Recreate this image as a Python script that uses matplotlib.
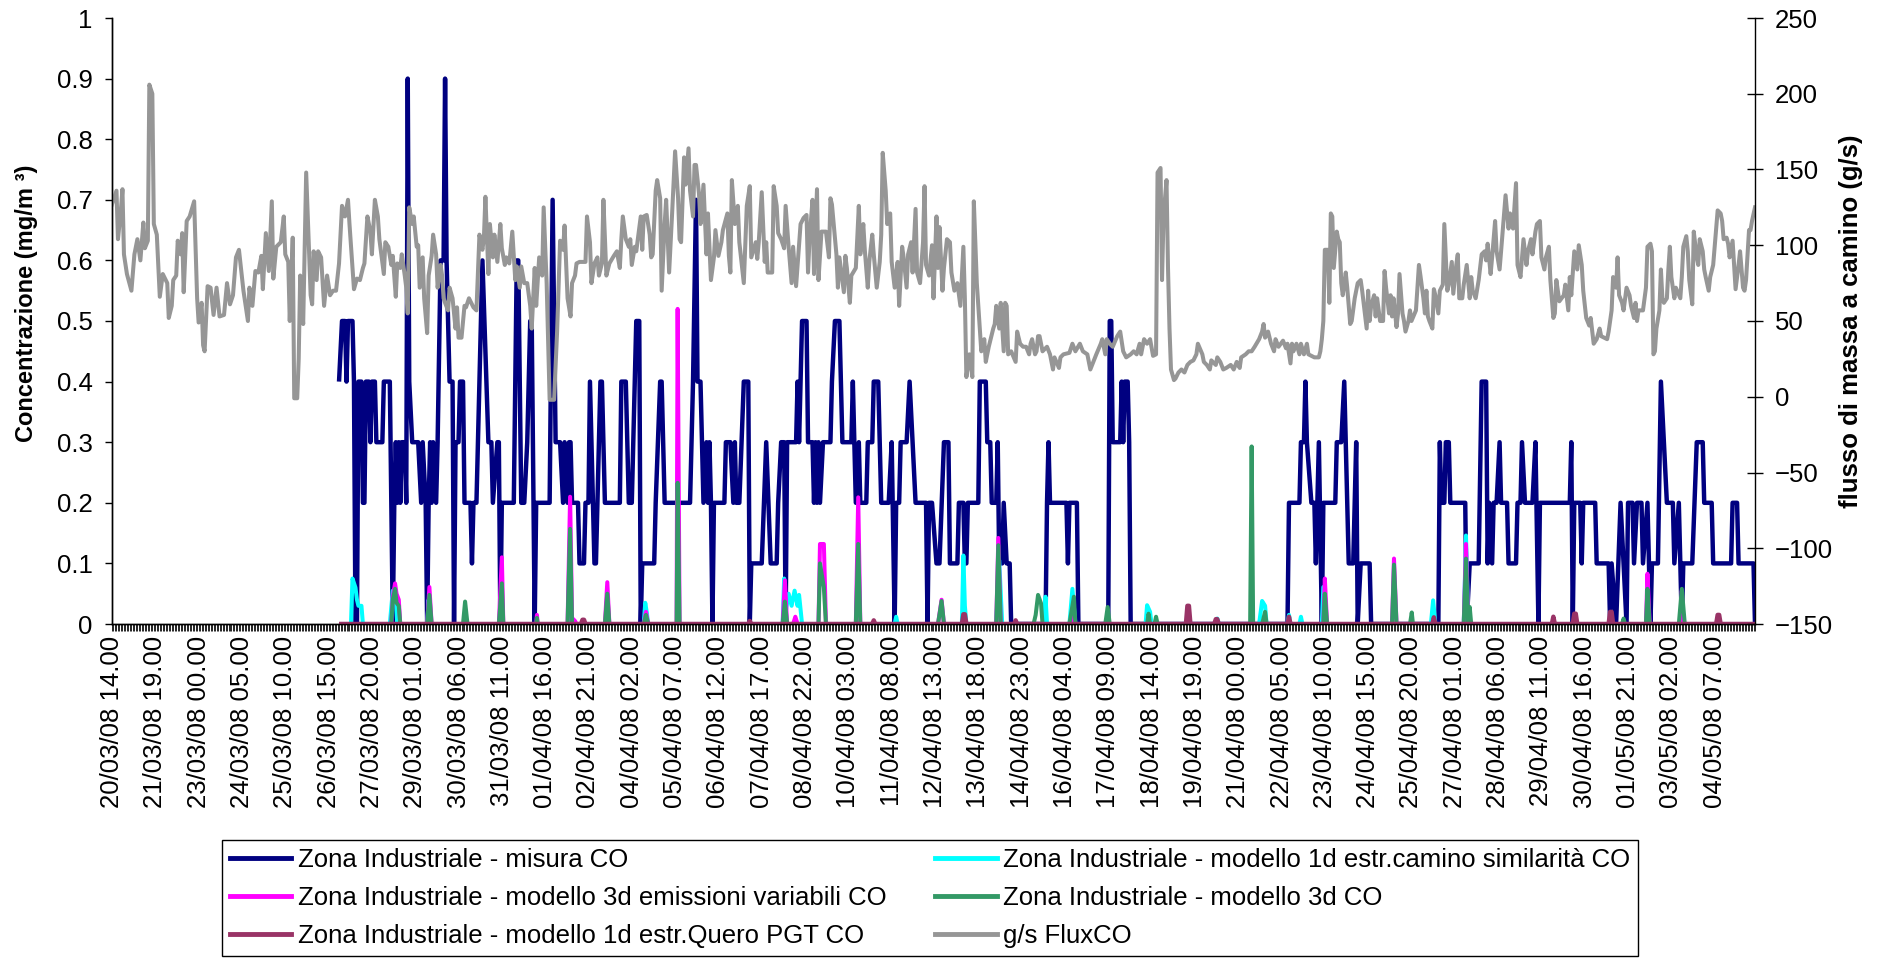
import matplotlib
matplotlib.use("Agg")
import matplotlib.pyplot as plt
from matplotlib.lines import Line2D
import numpy as np

plt.rcParams['font.family'] = ['Liberation Sans', 'DejaVu Sans']

# =====================================
# DATA (hour index from 20/03/08 14.00)
# =====================================

tick_labels = [
    "20/03/08 14.00", "21/03/08 19.00", "23/03/08 00.00", "24/03/08 05.00",
    "25/03/08 10.00", "26/03/08 15.00", "27/03/08 20.00", "29/03/08 01.00",
    "30/03/08 06.00", "31/03/08 11.00", "01/04/08 16.00", "02/04/08 21.00",
    "04/04/08 02.00", "05/04/08 07.00", "06/04/08 12.00", "07/04/08 17.00",
    "08/04/08 22.00", "10/04/08 03.00", "11/04/08 08.00", "12/04/08 13.00",
    "13/04/08 18.00", "14/04/08 23.00", "16/04/08 04.00", "17/04/08 09.00",
    "18/04/08 14.00", "19/04/08 19.00", "21/04/08 00.00", "22/04/08 05.00",
    "23/04/08 10.00", "24/04/08 15.00", "25/04/08 20.00", "27/04/08 01.00",
    "28/04/08 06.00", "29/04/08 11.00", "30/04/08 16.00", "01/05/08 21.00",
    "03/05/08 02.00", "04/05/08 07.00",
]
n_hours = 1101
label_step = 29

# g/s FluxCO (secondary axis)
flux_points = [
    (0, 127), (3, 136), (4, 104), (6, 124), (7, 137), (8, 94), (10, 81), (13, 70), (15, 94), (17, 104),
    (19, 90), (21, 115), (22, 98), (24, 103), (25, 206), (27, 200), (28, 114), (30, 107), (32, 66), (34, 81),
    (37, 75), (38, 52), (40, 60), (41, 77), (43, 80), (44, 103), (46, 94), (47, 108), (48, 69), (50, 116),
    (52, 119), (55, 129), (57, 65), (58, 49), (60, 62), (61, 34), (62, 30), (64, 73), (66, 72), (68, 54),
    (70, 72), (72, 53), (75, 54), (77, 75), (79, 61), (81, 67), (83, 92), (85, 97), (88, 70), (91, 50),
    (92, 72), (94, 60), (96, 83), (98, 82), (100, 93), (101, 71), (103, 108), (105, 83), (107, 129), (108, 78),
    (110, 99), (113, 102), (115, 119), (116, 94), (118, 89), (119, 50), (121, 105), (122, -1), (124, -1), (125, 25),
    (126, 80), (128, 48), (130, 148), (133, 67), (134, 61), (135, 96), (137, 77), (138, 96), (140, 92), (142, 60),
    (144, 80), (146, 67), (148, 70), (150, 70), (152, 88), (154, 126), (156, 119), (158, 130), (159, 114), (162, 71),
    (164, 78), (166, 77), (168, 85), (169, 88), (171, 119), (173, 109), (174, 94), (176, 130), (178, 119), (179, 104),
    (182, 81), (183, 102), (185, 99), (187, 87), (188, 93), (190, 66), (191, 88), (193, 85), (194, 94), (196, 80),
    (197, 72), (198, 55), (199, 125), (201, 114), (202, 119), (204, 99), (205, 100), (206, 72), (208, 92), (209, 65),
    (211, 42), (212, 80), (214, 93), (215, 107), (217, 94), (218, 72), (220, 87), (221, 80), (222, 65), (223, 62),
    (225, 57), (226, 72), (228, 65), (230, 45), (231, 59), (232, 39), (234, 39), (236, 60), (237, 59), (239, 65),
    (242, 59), (244, 57), (246, 107), (248, 97), (249, 105), (250, 132), (252, 81), (253, 114), (255, 92), (256, 107),
    (258, 89), (260, 114), (261, 98), (263, 87), (264, 92), (266, 88), (268, 109), (270, 77), (271, 86), (273, 72),
    (274, 86), (276, 75), (278, 75), (280, 60), (281, 45), (283, 85), (284, 60), (286, 92), (288, 80), (289, 125),
    (291, 75), (293, -2), (296, -2), (298, 43), (300, 103), (302, 97), (303, 113), (305, 65), (307, 53), (308, 75),
    (310, 80), (311, 88), (313, 89), (317, 89), (318, 119), (320, 102), (321, 75), (323, 88), (325, 92), (326, 80),
    (328, 88), (329, 130), (331, 80), (333, 88), (336, 93), (338, 96), (340, 85), (341, 104), (342, 119), (344, 104),
    (346, 99), (347, 104), (348, 87), (350, 99), (351, 96), (354, 119), (355, 97), (356, 119), (358, 120), (360, 107),
    (361, 92), (362, 94), (364, 136), (365, 143), (367, 131), (368, 70), (370, 114), (371, 130), (373, 82), (375, 121),
    (377, 162), (379, 131), (380, 104), (381, 102), (383, 158), (384, 140), (386, 164), (387, 136), (389, 119), (390, 153),
    (391, 153), (393, 134), (394, 114), (396, 140), (398, 94), (399, 121), (401, 77), (403, 92), (404, 110), (406, 93),
    (408, 102), (409, 110), (412, 121), (413, 93), (414, 82), (415, 143), (417, 114), (419, 126), (420, 102), (423, 75),
    (425, 126), (427, 139), (428, 92), (431, 102), (432, 91), (433, 102), (435, 135), (437, 89), (438, 102), (439, 82),
    (442, 82), (443, 139), (445, 126), (446, 108), (448, 104), (450, 98), (451, 126), (453, 99), (455, 75), (456, 99),
    (458, 73), (461, 114), (463, 118), (465, 120), (466, 82), (467, 104), (469, 130), (470, 81), (472, 137), (473, 77),
    (475, 109), (478, 109), (480, 92), (481, 131), (482, 127), (483, 116), (485, 94), (486, 72), (487, 92), (490, 69),
    (491, 93), (492, 85), (494, 62), (495, 80), (498, 85), (500, 126), (501, 94), (503, 114), (504, 97), (506, 72),
    (507, 89), (509, 107), (510, 94), (512, 72), (514, 89), (515, 107), (516, 161), (518, 136), (519, 114), (521, 121),
    (522, 89), (524, 72), (526, 89), (527, 60), (529, 99), (530, 92), (532, 72), (533, 94), (535, 102), (536, 82),
    (538, 124), (539, 82), (541, 75), (543, 102), (544, 139), (545, 87), (547, 80), (549, 100), (550, 65), (552, 119),
    (553, 85), (554, 112), (556, 70), (557, 85), (559, 104), (561, 102), (562, 82), (564, 70), (566, 75), (568, 60),
    (570, 99), (571, 65), (572, 13), (574, 28), (576, 13), (577, 129), (579, 75), (581, 45), (582, 30), (584, 38),
    (585, 23), (587, 33), (590, 45), (591, 48), (592, 60), (594, 45), (595, 62), (597, 30), (598, 62), (599, 60),
    (600, 28), (602, 30), (605, 23), (606, 43), (608, 35), (610, 33), (612, 33), (614, 28), (615, 35), (616, 38),
    (618, 28), (619, 30), (620, 40), (621, 40), (623, 30), (626, 33), (628, 28), (630, 18), (631, 26), (634, 19),
    (635, 26), (637, 28), (641, 29), (643, 35), (645, 30), (648, 35), (650, 30), (653, 28), (655, 18), (657, 23),
    (659, 28), (662, 35), (663, 38), (665, 28), (666, 38), (668, 35), (670, 33), (673, 40), (675, 43), (677, 30),
    (679, 26), (682, 28), (684, 30), (686, 28), (688, 35), (689, 28), (691, 38), (693, 35), (695, 38), (697, 27),
    (699, 28), (700, 148), (702, 151), (703, 77), (704, 119), (706, 143), (707, 85), (708, 45), (709, 18), (711, 11),
    (712, 12), (714, 16), (716, 18), (718, 16), (720, 21), (722, 23), (724, 24), (726, 28), (727, 35), (730, 28),
    (731, 23), (733, 21), (735, 18), (736, 24), (739, 21), (740, 26), (742, 23), (744, 18), (746, 19), (749, 21),
    (751, 18), (753, 23), (755, 19), (756, 26), (759, 28), (761, 30), (763, 30), (765, 33), (768, 38), (770, 43),
    (771, 48), (772, 39), (774, 43), (776, 35), (778, 30), (779, 38), (781, 33), (784, 37), (786, 32), (787, 35),
    (789, 22), (790, 35), (791, 30), (793, 35), (795, 28), (796, 35), (798, 28), (800, 35), (801, 28), (805, 26),
    (808, 26), (809, 30), (810, 38), (811, 50), (812, 97), (814, 97), (815, 62), (816, 121), (817, 119), (818, 85),
    (820, 109), (821, 104), (822, 102), (823, 75), (824, 67), (826, 82), (827, 72), (829, 48), (830, 50), (832, 65),
    (834, 75), (836, 77), (837, 70), (839, 53), (840, 45), (841, 70), (842, 50), (843, 60), (845, 67), (846, 53),
    (847, 65), (849, 50), (851, 50), (852, 83), (853, 72), (855, 55), (856, 67), (857, 53), (858, 65), (860, 46),
    (861, 55), (862, 81), (864, 55), (865, 50), (866, 43), (868, 50), (869, 57), (870, 50), (873, 57), (875, 87),
    (876, 80), (878, 65), (879, 55), (880, 70), (881, 53), (882, 50), (884, 45), (885, 71), (886, 67), (888, 55),
    (889, 70), (891, 74), (892, 114), (894, 70), (895, 74), (897, 89), (898, 68), (900, 87), (901, 94), (902, 65),
    (904, 65), (905, 74), (907, 87), (909, 65), (910, 79), (911, 70), (913, 65), (915, 77), (917, 94), (919, 96),
    (920, 90), (921, 101), (923, 81), (924, 92), (926, 116), (927, 96), (929, 84), (930, 96), (932, 121), (933, 133),
    (935, 111), (936, 121), (938, 111), (940, 141), (941, 87), (943, 79), (945, 104), (947, 87), (948, 96), (950, 104),
    (951, 94), (953, 109), (954, 114), (956, 116), (957, 92), (959, 84), (960, 92), (962, 99), (963, 77), (965, 52),
    (966, 55), (967, 77), (969, 63), (972, 67), (973, 74), (975, 57), (976, 79), (977, 67), (979, 96), (981, 84),
    (982, 100), (984, 87), (985, 70), (987, 52), (989, 47), (990, 52), (992, 35), (994, 38), (996, 45), (997, 40),
    (1001, 38), (1002, 43), (1004, 57), (1005, 79), (1007, 72), (1008, 92), (1009, 67), (1011, 62), (1012, 57), (1014, 72),
    (1016, 67), (1017, 60), (1019, 52), (1020, 62), (1021, 50), (1022, 57), (1025, 57), (1027, 72), (1028, 99), (1030, 101),
    (1031, 96), (1032, 28), (1033, 30), (1034, 45), (1036, 57), (1037, 84), (1038, 65), (1039, 62), (1041, 65), (1042, 84),
    (1043, 99), (1044, 79), (1046, 65), (1047, 72), (1050, 65), (1051, 79), (1052, 99), (1054, 106), (1055, 96), (1056, 77),
    (1058, 61), (1059, 109), (1061, 92), (1062, 87), (1063, 104), (1065, 96), (1066, 84), (1067, 79), (1069, 70), (1070, 79),
    (1072, 87), (1073, 99), (1075, 123), (1077, 121), (1078, 116), (1079, 104), (1081, 105), (1082, 101), (1083, 92), (1085, 103),
    (1087, 71), (1088, 79), (1089, 87), (1090, 96), (1092, 72), (1093, 70), (1094, 77), (1096, 110), (1097, 110), (1098, 116),
    (1100, 125),
]

# Zona Industriale - misura CO
misura_points = [
    (152, 0.4), (154, 0.5), (156, 0.5), (157, 0.4), (158, 0.5), (161, 0.5), (162, 0.4), (163, 0), (164, 0), (165, 0.4),
    (167, 0.4), (168, 0.2), (169, 0.2), (170, 0.4), (172, 0.4), (173, 0.3), (174, 0.4), (176, 0.4), (177, 0.3), (181, 0.3),
    (182, 0.4), (186, 0.4), (187, 0.2), (188, 0), (189, 0.2), (190, 0.3), (191, 0.2), (192, 0.3), (193, 0.2), (194, 0.3),
    (196, 0.3), (197, 0.2), (198, 0.9), (199, 0.4), (201, 0.3), (205, 0.3), (207, 0.2), (208, 0.3), (210, 0.2), (211, 0),
    (212, 0.2), (213, 0.3), (214, 0.2), (215, 0.3), (217, 0.2), (218, 0.3), (220, 0.6), (222, 0.6), (223, 0.9), (224, 0.6),
    (226, 0.4), (228, 0.4), (229, 0), (230, 0.3), (232, 0.3), (233, 0.4), (235, 0.4), (236, 0.2), (240, 0.2), (241, 0.1),
    (242, 0.2), (244, 0.2), (248, 0.6), (252, 0.3), (254, 0.3), (255, 0.2), (258, 0.3), (259, 0.3), (260, 0), (261, 0.2),
    (269, 0.2), (271, 0.6), (272, 0.6), (274, 0.2), (276, 0.2), (278, 0.3), (280, 0.5), (281, 0.5), (283, 0), (284, 0.2),
    (293, 0.2), (295, 0.7), (297, 0.3), (300, 0.3), (302, 0.2), (303, 0.3), (305, 0.2), (306, 0.3), (307, 0.3), (308, 0.2),
    (312, 0.2), (313, 0.1), (316, 0.1), (317, 0.2), (319, 0.2), (320, 0.4), (322, 0.2), (323, 0.1), (324, 0.1), (327, 0.4),
    (328, 0.4), (330, 0.2), (340, 0.2), (341, 0.4), (344, 0.4), (346, 0.2), (348, 0.2), (349, 0.3), (351, 0.5), (353, 0.5),
    (354, 0), (355, 0.1), (363, 0.1), (364, 0.2), (367, 0.4), (368, 0.4), (370, 0.2), (387, 0.2), (389, 0.4), (391, 0.7),
    (392, 0.4), (394, 0.4), (396, 0.2), (398, 0.3), (399, 0.2), (400, 0.3), (401, 0.2), (402, 0), (403, 0.2), (410, 0.2),
    (411, 0.3), (414, 0.3), (416, 0.2), (417, 0.3), (418, 0.2), (420, 0.2), (423, 0.4), (426, 0.4), (427, 0), (428, 0.1),
    (435, 0.1), (438, 0.3), (441, 0.1), (445, 0.1), (446, 0.2), (448, 0.3), (450, 0.3), (451, 0), (452, 0.3), (458, 0.3),
    (459, 0.4), (460, 0.3), (462, 0.5), (465, 0.5), (466, 0.3), (469, 0.3), (470, 0.2), (471, 0.3), (472, 0.2), (473, 0.3),
    (474, 0.2), (476, 0.3), (481, 0.3), (482, 0.4), (484, 0.5), (487, 0.5), (489, 0.3), (495, 0.3), (496, 0.4), (498, 0.2),
    (500, 0.3), (501, 0.2), (505, 0.2), (506, 0.3), (509, 0.3), (510, 0.4), (513, 0.4), (515, 0.2), (520, 0.2), (522, 0.3),
    (524, 0), (525, 0.2), (527, 0.2), (528, 0.3), (532, 0.3), (534, 0.4), (538, 0.2), (545, 0.2), (546, 0), (547, 0.2),
    (549, 0.2), (552, 0.1), (554, 0.1), (557, 0.3), (560, 0.3), (561, 0.1), (566, 0.1), (567, 0.2), (570, 0.2), (571, 0.1),
    (572, 0.1), (573, 0.2), (580, 0.2), (581, 0.4), (585, 0.4), (586, 0.3), (588, 0.3), (589, 0.2), (592, 0.2), (593, 0.3),
    (594, 0.1), (596, 0.1), (597, 0.2), (599, 0.1), (601, 0.1), (602, 0), (625, 0), (626, 0.2), (627, 0.3), (628, 0.2),
    (639, 0.2), (640, 0.1), (641, 0.2), (646, 0.2), (647, 0), (667, 0), (668, 0.5), (669, 0.5), (670, 0.3), (675, 0.3),
    (676, 0.4), (677, 0.3), (678, 0.4), (680, 0.4), (681, 0.3), (682, 0), (787, 0), (788, 0.2), (795, 0.2), (796, 0.3),
    (798, 0.3), (799, 0.4), (800, 0.3), (803, 0.2), (805, 0.2), (806, 0.1), (808, 0.3), (810, 0), (811, 0.2), (819, 0.2),
    (820, 0.3), (823, 0.3), (825, 0.4), (826, 0.3), (828, 0.1), (831, 0.1), (833, 0.3), (834, 0), (836, 0.1), (842, 0.1),
    (843, 0), (888, 0), (889, 0.3), (890, 0.2), (892, 0.2), (893, 0.3), (895, 0.3), (896, 0.2), (906, 0.2), (907, 0),
    (909, 0.1), (915, 0.1), (917, 0.4), (920, 0.4), (921, 0.1), (922, 0.2), (924, 0.1), (925, 0.2), (927, 0.2), (929, 0.3),
    (930, 0.2), (934, 0.2), (935, 0.1), (940, 0.1), (941, 0.2), (943, 0.2), (944, 0.3), (946, 0.2), (951, 0.2), (953, 0.3),
    (955, 0), (956, 0.2), (976, 0.2), (977, 0.3), (978, 0), (979, 0.2), (983, 0.2), (984, 0.1), (985, 0.2), (993, 0.2),
    (994, 0.1), (1002, 0.1), (1003, 0), (1004, 0.1), (1007, 0), (1010, 0.2), (1014, 0), (1015, 0.2), (1018, 0.2), (1019, 0.1),
    (1021, 0.2), (1024, 0.2), (1025, 0.1), (1028, 0.2), (1030, 0), (1031, 0.1), (1035, 0.1), (1037, 0.4), (1041, 0.2), (1045, 0.2),
    (1046, 0.1), (1049, 0.2), (1051, 0), (1052, 0.1), (1058, 0.1), (1061, 0.3), (1065, 0.3), (1066, 0.2), (1071, 0.2), (1072, 0.1),
    (1084, 0.1), (1085, 0.2), (1088, 0.2), (1089, 0.1), (1099, 0.1), (1100, 0),
]

# Zona Industriale - modello 1d estr.camino similarita CO
camino_points = [
    (152, 0), (160, 0), (161, 0.075), (163, 0.06), (164, 0.04), (165, 0.03), (167, 0.03), (168, 0),
    (186, 0), (188, 0.055), (190, 0.04), (191, 0), (211, 0), (212, 0.04), (213, 0), (306, 0), (307, 0.03), (308, 0),
    (356, 0), (357, 0.035), (358, 0.02), (359, 0), (449, 0), (450, 0.075), (451, 0.02), (453, 0.05), (455, 0.03),
    (457, 0.055), (459, 0.03), (460, 0.048), (462, 0), (524, 0), (525, 0.012), (526, 0), (569, 0), (570, 0.113),
    (571, 0.03), (572, 0), (592, 0), (594, 0.105), (596, 0), (624, 0), (625, 0.045), (626, 0), (641, 0), (643, 0.058),
    (645, 0), (692, 0), (693, 0.031), (695, 0.02), (696, 0), (739, 0), (740, 0.009), (741, 0), (768, 0), (770, 0.038),
    (772, 0.03), (773, 0), (787, 0), (788, 0.015), (789, 0), (795, 0), (796, 0.012), (797, 0), (810, 0), (811, 0.061),
    (813, 0), (883, 0), (884.5, 0.039), (886, 0), (905, 0), (906.5, 0.146), (908, 0), (1027, 0), (1028, 0.02),
    (1029, 0), (1100, 0),
]

# Zona Industriale - modello 3d emissioni variabili CO
emissioni_points = [
    (152, 0), (187, 0), (188, 0.045), (189.5, 0.067), (190.5, 0.05), (192, 0.04), (193, 0), (211, 0), (212.5, 0.061),
    (214, 0), (259, 0), (261, 0.11), (262, 0), (284, 0), (284.5, 0.015), (285, 0), (305, 0), (306.7, 0.21), (308, 0.01),
    (310, 0.005), (311, 0), (330, 0), (331.6, 0.069), (333, 0), (356, 0), (357.5, 0.02), (359, 0), (378, 0),
    (378.7, 0.52), (380, 0), (449, 0), (450.5, 0.072), (452, 0), (456, 0), (457.5, 0.012), (459, 0), (473, 0),
    (474, 0.132), (476.6, 0.132), (478, 0), (498, 0), (499.6, 0.209), (501, 0), (553, 0), (555.4, 0.04), (557, 0),
    (592, 0), (593.4, 0.142), (595, 0), (642, 0), (642.5, 0.012), (643, 0), (811, 0), (812, 0.075), (813.5, 0),
    (857, 0), (858.3, 0.108), (860, 0), (905, 0), (906.5, 0.132), (908, 0), (1027, 0), (1028, 0.083), (1029.5, 0),
    (1050, 0), (1051, 0.055), (1052, 0), (1100, 0),
]

# Zona Industriale - modello 3d CO
modello3d_points = [
    (152, 0), (187, 0), (188, 0.04), (189.5, 0.058), (190.5, 0.035), (192, 0.03), (193, 0), (211, 0), (212.5, 0.048),
    (214, 0), (235, 0), (236.4, 0.037), (238, 0), (259, 0), (261, 0.067), (262, 0), (284, 0), (284.5, 0.01), (285, 0),
    (305, 0), (306.7, 0.157), (308, 0), (330, 0), (331.6, 0.05), (333, 0), (356, 0), (357.5, 0.015), (359, 0),
    (378, 0), (378.7, 0.233), (380, 0), (449, 0), (450.5, 0.037), (452, 0), (473, 0), (474, 0.1), (476.6, 0.06),
    (478, 0), (498, 0), (499.6, 0.132), (501, 0), (553, 0), (555.4, 0.038), (557, 0), (570, 0), (570.5, 0.01),
    (571, 0), (592, 0), (593.4, 0.13), (595, 0), (617, 0), (618.4, 0.015), (620, 0.048), (622, 0.034), (623, 0),
    (641, 0), (644, 0.045), (645, 0), (665, 0), (666.6, 0.028), (668, 0), (693, 0), (694, 0.017), (695, 0), (698, 0),
    (699, 0.012), (700, 0), (762, 0), (763, 0.293), (764, 0), (770, 0), (772, 0.02), (773, 0), (811, 0), (812, 0.05),
    (813.5, 0), (857, 0), (858.3, 0.098), (860, 0), (869, 0), (870.2, 0.019), (871, 0), (905, 0), (906.5, 0.108),
    (908, 0), (909, 0.028), (910, 0), (1011, 0), (1012, 0.009), (1013, 0), (1027, 0), (1028, 0.058), (1029.5, 0),
    (1049, 0), (1051, 0.058), (1053, 0), (1100, 0),
]

# Zona Industriale - modello 1d estr.Quero PGT CO
quero_points = [
    (152, 0), (314, 0), (315, 0.007), (316, 0.007), (317, 0), (426, 0), (427, 0.005), (428, 0), (509, 0),
    (510, 0.006), (511, 0), (569, 0), (570, 0.016), (571, 0.016), (572, 0), (604, 0), (605, 0.006), (606, 0),
    (719, 0), (720, 0.03), (721, 0.03), (722, 0), (738, 0), (739, 0.008), (740, 0.008), (741, 0), (787, 0),
    (788, 0.012), (789, 0), (884, 0), (885, 0.011), (886, 0), (964, 0), (965, 0.012), (966, 0), (978, 0),
    (979, 0.017), (980, 0.017), (981, 0), (1002, 0), (1003, 0.02), (1004, 0.02), (1005, 0), (1074, 0),
    (1075, 0.015), (1076, 0.015), (1077, 0), (1100, 0),
]

series_labels = [
    "Zona Industriale - misura CO",
    "Zona Industriale - modello 1d estr.camino similarità CO",
    "Zona Industriale - modello 3d emissioni variabili CO",
    "Zona Industriale - modello 3d CO",
    "Zona Industriale - modello 1d estr.Quero PGT CO",
    "g/s FluxCO",
]
series_colors = ["#000080", "#00FFFF", "#FF00FF", "#339966", "#993366", "#969696"]

# =====================================
# FIGURE
# =====================================

W, H = 1881, 961
fig = plt.figure(figsize=(W / 100, H / 100), dpi=100)
ax = fig.add_axes([112 / W, 1 - 624 / H, (1755 - 112) / W, (624 - 18) / H])
ax2 = ax.twinx()

primary = [misura_points, camino_points, emissioni_points, modello3d_points, quero_points]
widths = [3.2, 2.9, 2.9, 2.9, 3.2]
for i, pts in enumerate(primary):
    hx, hy = zip(*pts)
    ax.plot(hx, hy, color=series_colors[i], lw=widths[i], zorder=2 + i,
            solid_joinstyle='round', solid_capstyle='butt')

fx, fy = zip(*flux_points)
ax2.plot(fx, fy, color=series_colors[5], lw=2.9, solid_joinstyle='round')

# =====================================
# AXES
# =====================================

ax.set_xlim(0, n_hours - 1)
ax.set_ylim(0, 1)
ax2.set_ylim(-150, 250)

ax.set_xticks(np.arange(0, label_step * len(tick_labels), label_step))
ax.set_xticklabels(tick_labels, rotation=90, fontsize=18.5)
ax.set_xticks(np.arange(0, n_hours), minor=True)
ax.tick_params(axis='x', which='both', direction='out', length=5, width=0.6,
               color='black', pad=3.5)

ax.set_yticks(np.arange(0, 11) / 10)
ax.set_yticklabels(["0", "0.1", "0.2", "0.3", "0.4", "0.5", "0.6", "0.7", "0.8", "0.9", "1"],
                   fontsize=18.5)
ax.tick_params(axis='y', direction='out', length=5, width=1, pad=9)

ax2.set_yticks(np.arange(-150, 251, 50))
ax2.tick_params(axis='y', direction='inout', length=12, width=1, pad=8.5, labelsize=18.5)

for a in (ax, ax2):
    a.spines['top'].set_visible(False)
    for s in ('left', 'right', 'bottom'):
        a.spines[s].set_linewidth(1)
        a.spines[s].set_color('black')
ax.spines['right'].set_visible(False)

ax.set_ylabel("Concentrazione (mg/m ³)", fontsize=17, fontweight='bold')
ax.yaxis.set_label_coords(-0.045, 0.53)
ax2.set_ylabel("flusso di massa a camino (g/s)", fontsize=18.5, fontweight='bold')
ax2.yaxis.set_label_coords(1.0511, 0.5)

# =====================================
# LEGEND
# =====================================

handles = [Line2D([], [], color=c, lw=3.5) for c in series_colors]
order = [0, 2, 4, 1, 3, 5]
leg = fig.legend([handles[i] for i in order], [series_labels[i] for i in order],
                 loc='upper left', bbox_to_anchor=(222 / W, 1 - 840 / H), ncol=2,
                 fontsize=18.5, frameon=True, fancybox=False, framealpha=1,
                 edgecolor='black', borderpad=0.3, handlelength=2.4,
                 handletextpad=0.25, columnspacing=1.9, labelspacing=0.55,
                 borderaxespad=0)
leg.get_frame().set_linewidth(1)

fig.savefig("out.png", dpi=100)
